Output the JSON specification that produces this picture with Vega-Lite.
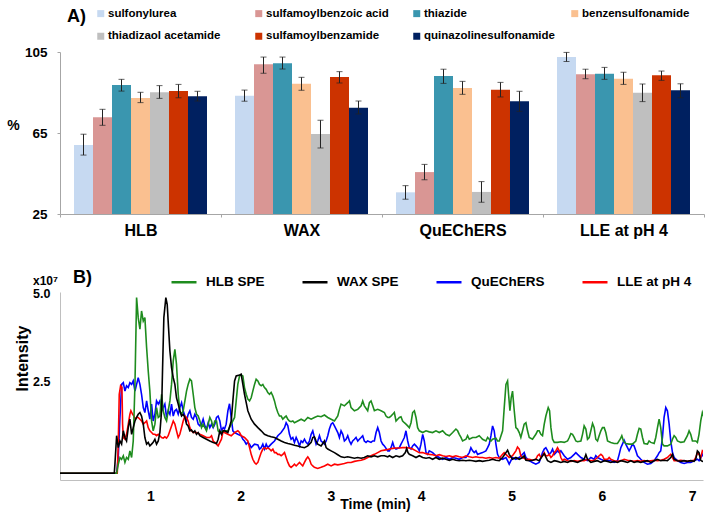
{
"$schema": "https://vega.github.io/schema/vega-lite/v6.json",
"autosize": {"type": "pad"},
"padding": {"left": 6, "top": 7, "right": 5, "bottom": 5},
"background": "white",
"config": {
  "view": {"stroke": null},
  "font": "Liberation Sans",
  "concat": {"spacing": 30},
  "axis": {"labelColor": "#000", "titleColor": "#000", "labelFont": "Liberation Sans", "titleFont": "Liberation Sans", "labelFontWeight": "bold", "titleFontWeight": "bold", "grid": false},
  "legend": {"labelFont": "Liberation Sans", "titleFont": "Liberation Sans", "labelColor": "#000", "titleColor": "#000", "labelFontWeight": "bold", "titleFontWeight": "bold"}
},
"resolve": {"scale": {"x": "independent", "y": "independent", "color": "independent"}, "axis": {"x": "independent", "y": "independent"}, "legend": {"color": "independent"}},
"datasets": {
  "recovery": [
    {"method":"HLB","compound":"sulfonylurea","value":59.1,"lo":54.1,"hi":64.4},
    {"method":"HLB","compound":"sulfamoylbenzoic acid","value":72.8,"lo":68.8,"hi":76.7},
    {"method":"HLB","compound":"thiazide","value":88.7,"lo":85.7,"hi":91.5},
    {"method":"HLB","compound":"benzensulfonamide","value":82.3,"lo":80.0,"hi":85.1},
    {"method":"HLB","compound":"thiadizaol acetamide","value":85.1,"lo":82.1,"hi":88.4},
    {"method":"HLB","compound":"sulfamoylbenzamide","value":85.7,"lo":82.4,"hi":89.0},
    {"method":"HLB","compound":"quinazolinesulfonamide","value":83.1,"lo":80.8,"hi":85.6},
    {"method":"WAX","compound":"sulfonylurea","value":83.4,"lo":80.7,"hi":86.2},
    {"method":"WAX","compound":"sulfamoylbenzoic acid","value":98.9,"lo":94.5,"hi":102.5},
    {"method":"WAX","compound":"thiazide","value":99.4,"lo":96.6,"hi":102.5},
    {"method":"WAX","compound":"benzensulfonamide","value":89.3,"lo":86.1,"hi":92.5},
    {"method":"WAX","compound":"thiadizaol acetamide","value":64.5,"lo":57.6,"hi":71.3},
    {"method":"WAX","compound":"sulfamoylbenzamide","value":92.7,"lo":89.7,"hi":95.3},
    {"method":"WAX","compound":"quinazolinesulfonamide","value":77.5,"lo":74.4,"hi":80.8},
    {"method":"QuEChERS","compound":"sulfonylurea","value":35.7,"lo":32.3,"hi":39.0},
    {"method":"QuEChERS","compound":"sulfamoylbenzoic acid","value":45.7,"lo":41.9,"hi":49.5},
    {"method":"QuEChERS","compound":"thiazide","value":93.1,"lo":89.5,"hi":96.5},
    {"method":"QuEChERS","compound":"benzensulfonamide","value":87.2,"lo":84.1,"hi":90.5},
    {"method":"QuEChERS","compound":"thiadizaol acetamide","value":35.9,"lo":30.8,"hi":41.0},
    {"method":"QuEChERS","compound":"sulfamoylbenzamide","value":86.4,"lo":82.8,"hi":90.0},
    {"method":"QuEChERS","compound":"quinazolinesulfonamide","value":80.7,"lo":75.7,"hi":85.6},
    {"method":"LLE at pH 4","compound":"sulfonylurea","value":102.5,"lo":100.3,"hi":104.8},
    {"method":"LLE at pH 4","compound":"sulfamoylbenzoic acid","value":94.0,"lo":91.8,"hi":96.5},
    {"method":"LLE at pH 4","compound":"thiazide","value":94.3,"lo":91.5,"hi":97.4},
    {"method":"LLE at pH 4","compound":"benzensulfonamide","value":91.8,"lo":89.0,"hi":95.0},
    {"method":"LLE at pH 4","compound":"thiadizaol acetamide","value":84.9,"lo":80.5,"hi":89.2},
    {"method":"LLE at pH 4","compound":"sulfamoylbenzamide","value":93.5,"lo":91.0,"hi":95.6},
    {"method":"LLE at pH 4","compound":"quinazolinesulfonamide","value":86.1,"lo":82.4,"hi":89.3}
  ],
  "quechers": [
{"t":0,"i":-0.11},{"t":0.627,"i":-0.11},{"t":0.645,"i":0.34},{"t":0.664,"i":1.48},{"t":0.682,"i":2.42},{"t":0.701,"i":2.47},{"t":0.719,"i":2.23},{"t":0.737,"i":2.38},{"t":0.756,"i":2.33},{"t":0.774,"i":2.47},{"t":0.793,"i":2.42},{"t":0.811,"i":2.52},{"t":0.83,"i":2.23},{"t":0.848,"i":2.42},{"t":0.866,"i":2.61},{"t":0.885,"i":2.42},{"t":0.903,"i":2.14},{"t":0.922,"i":1.76},{"t":0.94,"i":1.62},{"t":0.959,"i":1.95},{"t":0.977,"i":1.67},{"t":0.995,"i":1.43},{"t":1.014,"i":1.86},{"t":1.032,"i":1.38},{"t":1.051,"i":1.57},{"t":1.069,"i":1.95},{"t":1.088,"i":1.86},{"t":1.106,"i":1.95},{"t":1.125,"i":1.67},{"t":1.143,"i":1.76},{"t":1.161,"i":1.86},{"t":1.18,"i":1.48},{"t":1.198,"i":1.67},{"t":1.217,"i":1.57},{"t":1.235,"i":1.86},{"t":1.254,"i":1.52},{"t":1.272,"i":1.67},{"t":1.29,"i":1.71},{"t":1.309,"i":1.57},{"t":1.327,"i":1.76},{"t":1.346,"i":1.9},{"t":1.364,"i":1.67},{"t":1.383,"i":1.52},{"t":1.401,"i":1.38},{"t":1.419,"i":1.57},{"t":1.438,"i":1.67},{"t":1.456,"i":1.48},{"t":1.475,"i":1.43},{"t":1.493,"i":1.57},{"t":1.512,"i":1.48},{"t":1.53,"i":1.29},{"t":1.549,"i":1.24},{"t":1.567,"i":1.29},{"t":1.585,"i":1.43},{"t":1.604,"i":1.24},{"t":1.622,"i":1.15},{"t":1.641,"i":1.33},{"t":1.659,"i":1.19},{"t":1.678,"i":1.29},{"t":1.696,"i":1.19},{"t":1.714,"i":1.29},{"t":1.733,"i":1.48},{"t":1.751,"i":1.52},{"t":1.77,"i":1.38},{"t":1.788,"i":1.1},{"t":1.807,"i":1.19},{"t":1.822,"i":1.15},{"t":1.84,"i":1.29},{"t":1.859,"i":1.67},{"t":1.877,"i":1.87},{"t":1.896,"i":1.48},{"t":1.914,"i":1.1},{"t":1.933,"i":1.05},{"t":1.969,"i":1.0},{"t":2.006,"i":0.96},{"t":2.025,"i":0.86},{"t":2.043,"i":0.81},{"t":2.062,"i":0.72},{"t":2.08,"i":0.77},{"t":2.099,"i":0.72},{"t":2.117,"i":0.62},{"t":2.135,"i":0.67},{"t":2.154,"i":0.72},{"t":2.191,"i":0.7},{"t":2.209,"i":0.58},{"t":2.228,"i":0.62},{"t":2.246,"i":0.72},{"t":2.264,"i":0.58},{"t":2.283,"i":0.72},{"t":2.301,"i":0.62},{"t":2.32,"i":0.67},{"t":2.338,"i":0.72},{"t":2.375,"i":0.81},{"t":2.412,"i":0.96},{"t":2.449,"i":1.05},{"t":2.486,"i":1.19},{"t":2.504,"i":1.33},{"t":2.523,"i":1.24},{"t":2.541,"i":1.0},{"t":2.559,"i":0.86},{"t":2.578,"i":0.91},{"t":2.596,"i":0.77},{"t":2.615,"i":0.91},{"t":2.633,"i":0.81},{"t":2.652,"i":0.67},{"t":2.67,"i":0.81},{"t":2.688,"i":0.77},{"t":2.707,"i":0.86},{"t":2.725,"i":0.77},{"t":2.744,"i":0.72},{"t":2.762,"i":0.81},{"t":2.781,"i":1.0},{"t":2.799,"i":1.1},{"t":2.817,"i":0.91},{"t":2.836,"i":0.72},{"t":2.854,"i":0.81},{"t":2.873,"i":0.96},{"t":2.891,"i":0.81},{"t":2.91,"i":0.77},{"t":2.928,"i":0.72},{"t":2.947,"i":0.81},{"t":2.965,"i":0.96},{"t":2.983,"i":1.15},{"t":3.002,"i":1.29},{"t":3.02,"i":1.33},{"t":3.039,"i":1.24},{"t":3.057,"i":1.15},{"t":3.076,"i":1.05},{"t":3.094,"i":0.91},{"t":3.112,"i":1.1},{"t":3.131,"i":1.0},{"t":3.149,"i":0.81},{"t":3.168,"i":0.86},{"t":3.186,"i":0.96},{"t":3.205,"i":0.81},{"t":3.223,"i":0.72},{"t":3.241,"i":0.81},{"t":3.26,"i":0.86},{"t":3.278,"i":0.91},{"t":3.297,"i":0.81},{"t":3.315,"i":0.86},{"t":3.334,"i":0.91},{"t":3.352,"i":0.96},{"t":3.37,"i":0.81},{"t":3.389,"i":0.77},{"t":3.407,"i":0.81},{"t":3.444,"i":0.77},{"t":3.463,"i":0.81},{"t":3.481,"i":0.81},{"t":3.5,"i":1.05},{"t":3.518,"i":1.19},{"t":3.536,"i":1.05},{"t":3.555,"i":0.81},{"t":3.573,"i":0.72},{"t":3.592,"i":0.67},{"t":3.629,"i":0.53},{"t":3.647,"i":0.53},{"t":3.665,"i":0.62},{"t":3.684,"i":0.77},{"t":3.702,"i":0.62},{"t":3.721,"i":0.58},{"t":3.758,"i":0.62},{"t":3.776,"i":0.72},{"t":3.794,"i":0.81},{"t":3.813,"i":0.91},{"t":3.831,"i":1.1},{"t":3.85,"i":0.81},{"t":3.868,"i":0.62},{"t":3.887,"i":0.58},{"t":3.905,"i":0.67},{"t":3.924,"i":0.72},{"t":3.942,"i":0.67},{"t":3.96,"i":0.62},{"t":3.979,"i":0.53},{"t":3.997,"i":0.72},{"t":4.016,"i":1.0},{"t":4.034,"i":0.81},{"t":4.053,"i":0.48},{"t":4.071,"i":0.43},{"t":4.089,"i":0.53},{"t":4.126,"i":0.48},{"t":4.163,"i":0.39},{"t":4.2,"i":0.34},{"t":4.237,"i":0.29},{"t":4.274,"i":0.34},{"t":4.311,"i":0.29},{"t":4.348,"i":0.34},{"t":4.384,"i":0.32},{"t":4.421,"i":0.29},{"t":4.458,"i":0.34},{"t":4.495,"i":0.34},{"t":4.532,"i":0.48},{"t":4.55,"i":0.62},{"t":4.569,"i":0.53},{"t":4.587,"i":0.48},{"t":4.606,"i":0.53},{"t":4.624,"i":0.43},{"t":4.642,"i":0.45},{"t":4.679,"i":0.48},{"t":4.716,"i":0.53},{"t":4.735,"i":0.62},{"t":4.753,"i":0.72},{"t":4.772,"i":0.96},{"t":4.79,"i":1.24},{"t":4.808,"i":1.1},{"t":4.827,"i":0.72},{"t":4.845,"i":0.43},{"t":4.864,"i":0.34},{"t":4.901,"i":0.29},{"t":4.938,"i":0.34},{"t":4.956,"i":0.25},{"t":4.974,"i":0.15},{"t":4.993,"i":0.25},{"t":5.011,"i":0.34},{"t":5.048,"i":0.29},{"t":5.085,"i":0.34},{"t":5.122,"i":0.43},{"t":5.14,"i":0.48},{"t":5.159,"i":0.34},{"t":5.196,"i":0.25},{"t":5.232,"i":0.2},{"t":5.269,"i":0.15},{"t":5.306,"i":0.2},{"t":5.325,"i":0.34},{"t":5.343,"i":0.48},{"t":5.362,"i":0.58},{"t":5.38,"i":0.62},{"t":5.399,"i":0.53},{"t":5.417,"i":0.43},{"t":5.436,"i":0.48},{"t":5.454,"i":0.58},{"t":5.473,"i":0.43},{"t":5.509,"i":0.53},{"t":5.528,"i":0.48},{"t":5.546,"i":0.53},{"t":5.583,"i":0.39},{"t":5.62,"i":0.29},{"t":5.657,"i":0.34},{"t":5.694,"i":0.43},{"t":5.712,"i":0.48},{"t":5.731,"i":0.43},{"t":5.768,"i":0.34},{"t":5.804,"i":0.29},{"t":5.841,"i":0.25},{"t":5.878,"i":0.34},{"t":5.915,"i":0.29},{"t":5.933,"i":0.39},{"t":5.952,"i":0.34},{"t":5.989,"i":0.29},{"t":6.026,"i":0.25},{"t":6.063,"i":0.26},{"t":6.099,"i":0.25},{"t":6.136,"i":0.2},{"t":6.173,"i":0.25},{"t":6.192,"i":0.43},{"t":6.21,"i":0.62},{"t":6.228,"i":0.72},{"t":6.247,"i":0.83},{"t":6.265,"i":0.72},{"t":6.284,"i":0.62},{"t":6.302,"i":0.53},{"t":6.321,"i":0.62},{"t":6.339,"i":0.72},{"t":6.357,"i":0.67},{"t":6.376,"i":0.53},{"t":6.394,"i":0.39},{"t":6.413,"i":0.34},{"t":6.431,"i":0.29},{"t":6.468,"i":0.2},{"t":6.505,"i":0.15},{"t":6.542,"i":0.17},{"t":6.579,"i":0.25},{"t":6.616,"i":0.39},{"t":6.634,"i":0.48},{"t":6.652,"i":0.53},{"t":6.671,"i":0.91},{"t":6.689,"i":1.48},{"t":6.708,"i":1.76},{"t":6.726,"i":1.67},{"t":6.745,"i":1.29},{"t":6.763,"i":0.81},{"t":6.782,"i":0.48},{"t":6.8,"i":0.34},{"t":6.837,"i":0.25},{"t":6.874,"i":0.2},{"t":6.911,"i":0.17},{"t":6.947,"i":0.2},{"t":6.984,"i":0.2},{"t":7.021,"i":0.25},{"t":7.058,"i":0.29},{"t":7.076,"i":0.25},{"t":7.095,"i":0.34},{"t":7.113,"i":0.43},{"t":7.132,"i":0.34},{"t":7.15,"i":0.34}
  ],
  "lle": [
{"t":0,"i":-0.11},{"t":0.634,"i":-0.11},{"t":0.645,"i":0.72},{"t":0.656,"i":2.14},{"t":0.671,"i":2.38},{"t":0.686,"i":2.33},{"t":0.693,"i":1.29},{"t":0.701,"i":0.91},{"t":0.719,"i":0.86},{"t":0.737,"i":1.0},{"t":0.756,"i":1.29},{"t":0.774,"i":1.57},{"t":0.785,"i":1.67},{"t":0.804,"i":1.57},{"t":0.819,"i":1.52},{"t":0.833,"i":1.43},{"t":0.848,"i":1.48},{"t":0.866,"i":1.48},{"t":0.885,"i":1.43},{"t":0.903,"i":1.38},{"t":0.922,"i":1.29},{"t":0.94,"i":1.33},{"t":0.959,"i":1.38},{"t":0.977,"i":1.19},{"t":0.995,"i":1.1},{"t":1.014,"i":1.05},{"t":1.032,"i":1.0},{"t":1.051,"i":1.0},{"t":1.069,"i":0.96},{"t":1.088,"i":1.0},{"t":1.106,"i":0.96},{"t":1.125,"i":0.91},{"t":1.143,"i":0.89},{"t":1.161,"i":0.93},{"t":1.18,"i":0.89},{"t":1.198,"i":0.96},{"t":1.217,"i":1.1},{"t":1.235,"i":1.24},{"t":1.254,"i":1.38},{"t":1.272,"i":1.29},{"t":1.29,"i":1.1},{"t":1.309,"i":0.91},{"t":1.327,"i":1.0},{"t":1.346,"i":1.19},{"t":1.364,"i":1.38},{"t":1.383,"i":1.52},{"t":1.401,"i":1.48},{"t":1.419,"i":1.38},{"t":1.438,"i":1.19},{"t":1.456,"i":1.1},{"t":1.475,"i":1.05},{"t":1.512,"i":1.05},{"t":1.549,"i":1.0},{"t":1.585,"i":0.96},{"t":1.622,"i":0.91},{"t":1.659,"i":0.91},{"t":1.678,"i":0.96},{"t":1.696,"i":0.81},{"t":1.714,"i":0.77},{"t":1.733,"i":0.72},{"t":1.751,"i":0.67},{"t":1.77,"i":0.77},{"t":1.788,"i":0.86},{"t":1.807,"i":1.1},{"t":1.822,"i":1.05},{"t":1.859,"i":1.0},{"t":1.896,"i":0.96},{"t":1.933,"i":1.05},{"t":1.969,"i":1.1},{"t":1.988,"i":1.05},{"t":2.006,"i":0.96},{"t":2.043,"i":0.91},{"t":2.08,"i":0.81},{"t":2.099,"i":0.62},{"t":2.117,"i":0.43},{"t":2.135,"i":0.29},{"t":2.154,"i":0.2},{"t":2.172,"i":0.15},{"t":2.191,"i":0.2},{"t":2.209,"i":0.34},{"t":2.228,"i":0.48},{"t":2.246,"i":0.58},{"t":2.264,"i":0.62},{"t":2.283,"i":0.58},{"t":2.301,"i":0.62},{"t":2.32,"i":0.58},{"t":2.338,"i":0.53},{"t":2.357,"i":0.58},{"t":2.375,"i":0.48},{"t":2.393,"i":0.48},{"t":2.412,"i":0.43},{"t":2.43,"i":0.43},{"t":2.449,"i":0.39},{"t":2.467,"i":0.43},{"t":2.486,"i":0.48},{"t":2.504,"i":0.34},{"t":2.523,"i":0.2},{"t":2.541,"i":0.1},{"t":2.559,"i":0.06},{"t":2.578,"i":0.1},{"t":2.596,"i":0.15},{"t":2.615,"i":0.1},{"t":2.633,"i":0.15},{"t":2.652,"i":0.2},{"t":2.67,"i":0.15},{"t":2.688,"i":0.1},{"t":2.707,"i":0.2},{"t":2.725,"i":0.29},{"t":2.744,"i":0.36},{"t":2.762,"i":0.29},{"t":2.781,"i":0.15},{"t":2.799,"i":0.1},{"t":2.817,"i":0.06},{"t":2.854,"i":0.03},{"t":2.891,"i":0.06},{"t":2.928,"i":0.1},{"t":2.965,"i":0.15},{"t":3.002,"i":0.1},{"t":3.039,"i":0.15},{"t":3.076,"i":0.13},{"t":3.112,"i":0.15},{"t":3.149,"i":0.17},{"t":3.186,"i":0.2},{"t":3.223,"i":0.2},{"t":3.26,"i":0.23},{"t":3.297,"i":0.25},{"t":3.334,"i":0.26},{"t":3.37,"i":0.29},{"t":3.407,"i":0.34},{"t":3.444,"i":0.39},{"t":3.481,"i":0.43},{"t":3.518,"i":0.48},{"t":3.555,"i":0.53},{"t":3.592,"i":0.55},{"t":3.629,"i":0.57},{"t":3.647,"i":0.58},{"t":3.684,"i":0.6},{"t":3.721,"i":0.61},{"t":3.758,"i":0.61},{"t":3.794,"i":0.62},{"t":3.831,"i":0.62},{"t":3.868,"i":0.61},{"t":3.905,"i":0.58},{"t":3.942,"i":0.53},{"t":3.979,"i":0.48},{"t":4.016,"i":0.48},{"t":4.053,"i":0.45},{"t":4.089,"i":0.43},{"t":4.126,"i":0.42},{"t":4.163,"i":0.39},{"t":4.2,"i":0.42},{"t":4.237,"i":0.39},{"t":4.274,"i":0.37},{"t":4.311,"i":0.39},{"t":4.348,"i":0.36},{"t":4.384,"i":0.39},{"t":4.421,"i":0.36},{"t":4.458,"i":0.34},{"t":4.495,"i":0.39},{"t":4.532,"i":0.36},{"t":4.569,"i":0.34},{"t":4.606,"i":0.36},{"t":4.642,"i":0.34},{"t":4.679,"i":0.34},{"t":4.716,"i":0.32},{"t":4.753,"i":0.34},{"t":4.79,"i":0.32},{"t":4.827,"i":0.34},{"t":4.864,"i":0.32},{"t":4.901,"i":0.43},{"t":4.919,"i":0.48},{"t":4.938,"i":0.43},{"t":4.974,"i":0.34},{"t":5.011,"i":0.39},{"t":5.048,"i":0.53},{"t":5.066,"i":0.64},{"t":5.085,"i":0.58},{"t":5.103,"i":0.39},{"t":5.122,"i":0.34},{"t":5.159,"i":0.29},{"t":5.196,"i":0.29},{"t":5.232,"i":0.26},{"t":5.269,"i":0.29},{"t":5.288,"i":0.39},{"t":5.306,"i":0.43},{"t":5.325,"i":0.34},{"t":5.343,"i":0.39},{"t":5.362,"i":0.48},{"t":5.38,"i":0.39},{"t":5.399,"i":0.39},{"t":5.417,"i":0.43},{"t":5.436,"i":0.34},{"t":5.454,"i":0.39},{"t":5.473,"i":0.48},{"t":5.491,"i":0.53},{"t":5.509,"i":0.62},{"t":5.528,"i":0.53},{"t":5.546,"i":0.34},{"t":5.565,"i":0.25},{"t":5.583,"i":0.29},{"t":5.62,"i":0.25},{"t":5.657,"i":0.23},{"t":5.694,"i":0.25},{"t":5.731,"i":0.23},{"t":5.768,"i":0.25},{"t":5.804,"i":0.25},{"t":5.841,"i":0.29},{"t":5.878,"i":0.25},{"t":5.915,"i":0.26},{"t":5.952,"i":0.34},{"t":5.97,"i":0.39},{"t":5.989,"i":0.43},{"t":6.007,"i":0.39},{"t":6.026,"i":0.29},{"t":6.063,"i":0.29},{"t":6.081,"i":0.34},{"t":6.099,"i":0.29},{"t":6.136,"i":0.25},{"t":6.173,"i":0.23},{"t":6.21,"i":0.25},{"t":6.247,"i":0.29},{"t":6.284,"i":0.26},{"t":6.321,"i":0.25},{"t":6.357,"i":0.23},{"t":6.394,"i":0.25},{"t":6.431,"i":0.23},{"t":6.468,"i":0.25},{"t":6.505,"i":0.23},{"t":6.542,"i":0.25},{"t":6.579,"i":0.26},{"t":6.616,"i":0.25},{"t":6.652,"i":0.26},{"t":6.689,"i":0.29},{"t":6.726,"i":0.34},{"t":6.745,"i":0.39},{"t":6.763,"i":0.43},{"t":6.782,"i":0.34},{"t":6.8,"i":0.25},{"t":6.837,"i":0.25},{"t":6.874,"i":0.26},{"t":6.911,"i":0.25},{"t":6.947,"i":0.23},{"t":6.984,"i":0.25},{"t":7.021,"i":0.26},{"t":7.04,"i":0.34},{"t":7.058,"i":0.48},{"t":7.076,"i":0.43},{"t":7.095,"i":0.34},{"t":7.113,"i":0.53},{"t":7.132,"i":0.48},{"t":7.15,"i":0.39}
  ],
  "hlb": [
{"t":0,"i":-0.11},{"t":0.627,"i":-0.11},{"t":0.645,"i":0.15},{"t":0.664,"i":0.34},{"t":0.682,"i":0.29},{"t":0.701,"i":0.39},{"t":0.719,"i":0.2},{"t":0.737,"i":0.34},{"t":0.756,"i":0.29},{"t":0.774,"i":0.53},{"t":0.793,"i":0.34},{"t":0.811,"i":0.81},{"t":0.83,"i":2.42},{"t":0.848,"i":4.89},{"t":0.866,"i":4.32},{"t":0.885,"i":3.99},{"t":0.903,"i":4.51},{"t":0.922,"i":4.22},{"t":0.94,"i":4.32},{"t":0.959,"i":3.47},{"t":0.977,"i":2.8},{"t":0.995,"i":2.23},{"t":1.014,"i":1.38},{"t":1.032,"i":1.1},{"t":1.051,"i":1.29},{"t":1.069,"i":1.76},{"t":1.088,"i":1.48},{"t":1.106,"i":1.52},{"t":1.125,"i":2.14},{"t":1.143,"i":1.67},{"t":1.161,"i":1.48},{"t":1.18,"i":1.38},{"t":1.198,"i":1.67},{"t":1.217,"i":1.95},{"t":1.235,"i":2.42},{"t":1.254,"i":3.09},{"t":1.272,"i":3.42},{"t":1.29,"i":2.99},{"t":1.309,"i":2.14},{"t":1.327,"i":1.67},{"t":1.346,"i":1.57},{"t":1.364,"i":1.67},{"t":1.383,"i":1.95},{"t":1.401,"i":2.23},{"t":1.419,"i":2.42},{"t":1.438,"i":2.57},{"t":1.456,"i":2.52},{"t":1.475,"i":2.14},{"t":1.493,"i":1.76},{"t":1.512,"i":1.57},{"t":1.53,"i":1.52},{"t":1.549,"i":1.38},{"t":1.567,"i":1.19},{"t":1.585,"i":1.29},{"t":1.604,"i":1.19},{"t":1.622,"i":1.1},{"t":1.641,"i":1.29},{"t":1.659,"i":1.48},{"t":1.678,"i":1.38},{"t":1.696,"i":1.19},{"t":1.714,"i":1.38},{"t":1.733,"i":1.38},{"t":1.751,"i":1.1},{"t":1.77,"i":1.05},{"t":1.807,"i":1.1},{"t":1.822,"i":1.1},{"t":1.859,"i":1.1},{"t":1.896,"i":1.29},{"t":1.933,"i":1.48},{"t":1.951,"i":1.95},{"t":1.969,"i":2.42},{"t":1.988,"i":2.66},{"t":2.006,"i":2.69},{"t":2.025,"i":2.66},{"t":2.043,"i":2.33},{"t":2.062,"i":2.14},{"t":2.08,"i":2.0},{"t":2.099,"i":1.95},{"t":2.117,"i":2.04},{"t":2.135,"i":2.23},{"t":2.154,"i":2.42},{"t":2.172,"i":2.57},{"t":2.191,"i":2.52},{"t":2.209,"i":2.42},{"t":2.228,"i":2.38},{"t":2.246,"i":2.42},{"t":2.264,"i":2.33},{"t":2.283,"i":2.28},{"t":2.301,"i":2.19},{"t":2.32,"i":2.14},{"t":2.338,"i":2.19},{"t":2.357,"i":2.09},{"t":2.375,"i":1.95},{"t":2.393,"i":1.76},{"t":2.412,"i":1.62},{"t":2.43,"i":1.52},{"t":2.449,"i":1.52},{"t":2.467,"i":1.43},{"t":2.486,"i":1.48},{"t":2.504,"i":1.52},{"t":2.523,"i":1.43},{"t":2.541,"i":1.38},{"t":2.559,"i":1.36},{"t":2.578,"i":1.38},{"t":2.596,"i":1.33},{"t":2.633,"i":1.38},{"t":2.67,"i":1.43},{"t":2.707,"i":1.38},{"t":2.744,"i":1.48},{"t":2.781,"i":1.43},{"t":2.817,"i":1.48},{"t":2.854,"i":1.52},{"t":2.891,"i":1.5},{"t":2.928,"i":1.55},{"t":2.965,"i":1.48},{"t":3.002,"i":1.43},{"t":3.039,"i":1.38},{"t":3.076,"i":1.52},{"t":3.094,"i":1.71},{"t":3.112,"i":1.86},{"t":3.149,"i":1.81},{"t":3.186,"i":1.9},{"t":3.205,"i":1.95},{"t":3.223,"i":1.76},{"t":3.26,"i":1.67},{"t":3.297,"i":1.71},{"t":3.334,"i":1.81},{"t":3.352,"i":1.95},{"t":3.37,"i":1.81},{"t":3.407,"i":1.67},{"t":3.426,"i":1.9},{"t":3.444,"i":1.95},{"t":3.463,"i":1.81},{"t":3.481,"i":1.67},{"t":3.518,"i":1.71},{"t":3.555,"i":1.67},{"t":3.592,"i":1.62},{"t":3.61,"i":1.52},{"t":3.629,"i":1.48},{"t":3.647,"i":1.48},{"t":3.665,"i":1.52},{"t":3.684,"i":1.57},{"t":3.702,"i":1.62},{"t":3.721,"i":1.38},{"t":3.739,"i":1.43},{"t":3.758,"i":1.48},{"t":3.776,"i":1.5},{"t":3.794,"i":1.38},{"t":3.813,"i":1.33},{"t":3.831,"i":1.29},{"t":3.85,"i":1.24},{"t":3.868,"i":1.19},{"t":3.887,"i":1.33},{"t":3.905,"i":1.62},{"t":3.924,"i":1.67},{"t":3.942,"i":1.48},{"t":3.96,"i":1.19},{"t":3.979,"i":1.1},{"t":4.016,"i":1.05},{"t":4.053,"i":1.1},{"t":4.089,"i":1.07},{"t":4.126,"i":1.05},{"t":4.163,"i":1.1},{"t":4.2,"i":1.05},{"t":4.237,"i":1.1},{"t":4.274,"i":1.0},{"t":4.311,"i":0.96},{"t":4.348,"i":1.05},{"t":4.366,"i":1.1},{"t":4.384,"i":1.15},{"t":4.403,"i":1.1},{"t":4.421,"i":1.0},{"t":4.44,"i":0.91},{"t":4.458,"i":0.81},{"t":4.495,"i":0.86},{"t":4.513,"i":0.96},{"t":4.532,"i":0.86},{"t":4.569,"i":0.91},{"t":4.606,"i":0.91},{"t":4.642,"i":0.96},{"t":4.661,"i":0.91},{"t":4.679,"i":0.86},{"t":4.716,"i":0.81},{"t":4.735,"i":0.91},{"t":4.753,"i":0.86},{"t":4.772,"i":0.81},{"t":4.79,"i":0.86},{"t":4.827,"i":0.89},{"t":4.845,"i":0.81},{"t":4.864,"i":0.81},{"t":4.901,"i":1.1},{"t":4.919,"i":1.76},{"t":4.938,"i":2.42},{"t":4.956,"i":2.52},{"t":4.967,"i":2.14},{"t":4.982,"i":1.67},{"t":4.996,"i":2.04},{"t":5.011,"i":2.23},{"t":5.03,"i":1.67},{"t":5.048,"i":1.19},{"t":5.066,"i":1.15},{"t":5.085,"i":1.05},{"t":5.103,"i":0.91},{"t":5.122,"i":1.1},{"t":5.14,"i":1.29},{"t":5.159,"i":1.33},{"t":5.177,"i":1.1},{"t":5.196,"i":0.91},{"t":5.232,"i":0.86},{"t":5.269,"i":1.0},{"t":5.288,"i":1.1},{"t":5.306,"i":1.1},{"t":5.325,"i":1.0},{"t":5.343,"i":0.96},{"t":5.362,"i":1.29},{"t":5.38,"i":1.52},{"t":5.406,"i":1.76},{"t":5.421,"i":1.67},{"t":5.436,"i":1.19},{"t":5.454,"i":0.86},{"t":5.473,"i":0.77},{"t":5.509,"i":0.77},{"t":5.546,"i":0.79},{"t":5.583,"i":0.77},{"t":5.62,"i":0.81},{"t":5.639,"i":0.91},{"t":5.657,"i":1.02},{"t":5.675,"i":1.0},{"t":5.694,"i":0.91},{"t":5.712,"i":0.81},{"t":5.731,"i":0.79},{"t":5.768,"i":0.81},{"t":5.786,"i":1.0},{"t":5.804,"i":1.24},{"t":5.823,"i":1.15},{"t":5.841,"i":0.86},{"t":5.86,"i":0.91},{"t":5.878,"i":1.1},{"t":5.897,"i":1.31},{"t":5.915,"i":1.19},{"t":5.933,"i":0.86},{"t":5.952,"i":0.81},{"t":5.97,"i":0.96},{"t":5.989,"i":1.1},{"t":6.007,"i":1.19},{"t":6.026,"i":1.19},{"t":6.044,"i":1.05},{"t":6.063,"i":0.81},{"t":6.099,"i":0.77},{"t":6.136,"i":0.74},{"t":6.173,"i":0.74},{"t":6.203,"i":0.86},{"t":6.221,"i":0.96},{"t":6.239,"i":0.81},{"t":6.265,"i":0.74},{"t":6.302,"i":0.72},{"t":6.339,"i":0.72},{"t":6.376,"i":0.81},{"t":6.394,"i":1.0},{"t":6.413,"i":1.17},{"t":6.431,"i":1.15},{"t":6.45,"i":0.91},{"t":6.468,"i":0.74},{"t":6.505,"i":0.72},{"t":6.523,"i":0.81},{"t":6.542,"i":0.77},{"t":6.579,"i":0.74},{"t":6.597,"i":0.91},{"t":6.616,"i":1.19},{"t":6.634,"i":1.43},{"t":6.652,"i":1.19},{"t":6.671,"i":0.72},{"t":6.689,"i":0.67},{"t":6.726,"i":0.67},{"t":6.763,"i":0.72},{"t":6.782,"i":0.86},{"t":6.8,"i":0.96},{"t":6.818,"i":0.91},{"t":6.837,"i":0.81},{"t":6.874,"i":0.77},{"t":6.911,"i":0.79},{"t":6.947,"i":0.96},{"t":6.966,"i":1.1},{"t":6.984,"i":1.0},{"t":7.003,"i":0.81},{"t":7.04,"i":0.81},{"t":7.058,"i":0.77},{"t":7.076,"i":1.0},{"t":7.095,"i":1.38},{"t":7.113,"i":1.62},{"t":7.132,"i":1.48},{"t":7.15,"i":0.96}
  ],
  "wax": [
{"t":0,"i":-0.11},{"t":0.601,"i":-0.11},{"t":0.608,"i":0.15},{"t":0.627,"i":0.96},{"t":0.645,"i":0.62},{"t":0.664,"i":0.81},{"t":0.682,"i":0.72},{"t":0.701,"i":1.1},{"t":0.719,"i":0.91},{"t":0.737,"i":0.81},{"t":0.756,"i":1.19},{"t":0.774,"i":1.43},{"t":0.793,"i":1.0},{"t":0.811,"i":1.19},{"t":0.83,"i":1.38},{"t":0.848,"i":1.48},{"t":0.866,"i":1.57},{"t":0.885,"i":1.62},{"t":0.903,"i":1.52},{"t":0.922,"i":1.29},{"t":0.94,"i":0.91},{"t":0.959,"i":0.72},{"t":0.977,"i":0.77},{"t":0.995,"i":0.67},{"t":1.014,"i":0.72},{"t":1.032,"i":0.77},{"t":1.051,"i":0.86},{"t":1.069,"i":0.72},{"t":1.088,"i":0.81},{"t":1.106,"i":1.05},{"t":1.125,"i":1.67},{"t":1.136,"i":2.9},{"t":1.15,"i":4.32},{"t":1.172,"i":4.89},{"t":1.187,"i":4.7},{"t":1.202,"i":4.03},{"t":1.217,"i":3.37},{"t":1.235,"i":2.9},{"t":1.254,"i":2.61},{"t":1.272,"i":2.42},{"t":1.29,"i":2.04},{"t":1.309,"i":1.86},{"t":1.327,"i":1.67},{"t":1.346,"i":1.52},{"t":1.364,"i":1.57},{"t":1.383,"i":1.48},{"t":1.401,"i":1.29},{"t":1.419,"i":1.24},{"t":1.438,"i":1.1},{"t":1.456,"i":1.12},{"t":1.475,"i":1.05},{"t":1.493,"i":1.1},{"t":1.512,"i":1.0},{"t":1.53,"i":1.05},{"t":1.549,"i":0.96},{"t":1.585,"i":0.91},{"t":1.622,"i":0.86},{"t":1.659,"i":0.81},{"t":1.696,"i":0.77},{"t":1.733,"i":0.74},{"t":1.751,"i":0.86},{"t":1.77,"i":1.1},{"t":1.788,"i":1.0},{"t":1.807,"i":1.1},{"t":1.822,"i":1.1},{"t":1.859,"i":1.05},{"t":1.896,"i":1.38},{"t":1.914,"i":1.95},{"t":1.933,"i":2.52},{"t":1.951,"i":2.66},{"t":1.988,"i":2.69},{"t":2.006,"i":2.71},{"t":2.025,"i":2.42},{"t":2.043,"i":2.14},{"t":2.062,"i":1.9},{"t":2.08,"i":1.67},{"t":2.117,"i":1.43},{"t":2.154,"i":1.29},{"t":2.191,"i":1.19},{"t":2.228,"i":1.1},{"t":2.264,"i":1.0},{"t":2.301,"i":0.96},{"t":2.338,"i":0.93},{"t":2.375,"i":0.91},{"t":2.412,"i":0.86},{"t":2.449,"i":0.81},{"t":2.486,"i":0.77},{"t":2.523,"i":0.74},{"t":2.559,"i":0.72},{"t":2.596,"i":0.69},{"t":2.633,"i":0.67},{"t":2.67,"i":0.64},{"t":2.707,"i":0.62},{"t":2.744,"i":0.67},{"t":2.781,"i":0.77},{"t":2.799,"i":0.91},{"t":2.817,"i":0.93},{"t":2.836,"i":0.81},{"t":2.854,"i":0.72},{"t":2.891,"i":0.67},{"t":2.928,"i":0.81},{"t":2.947,"i":0.62},{"t":2.965,"i":0.58},{"t":3.002,"i":0.53},{"t":3.039,"i":0.48},{"t":3.076,"i":0.42},{"t":3.112,"i":0.36},{"t":3.149,"i":0.34},{"t":3.186,"i":0.36},{"t":3.223,"i":0.34},{"t":3.26,"i":0.32},{"t":3.297,"i":0.34},{"t":3.334,"i":0.32},{"t":3.37,"i":0.34},{"t":3.407,"i":0.39},{"t":3.444,"i":0.36},{"t":3.481,"i":0.39},{"t":3.518,"i":0.36},{"t":3.555,"i":0.39},{"t":3.592,"i":0.39},{"t":3.629,"i":0.36},{"t":3.647,"i":0.39},{"t":3.684,"i":0.34},{"t":3.721,"i":0.39},{"t":3.758,"i":0.36},{"t":3.794,"i":0.39},{"t":3.824,"i":0.48},{"t":3.839,"i":0.6},{"t":3.853,"i":0.48},{"t":3.868,"i":0.43},{"t":3.905,"i":0.39},{"t":3.942,"i":0.34},{"t":3.979,"i":0.39},{"t":4.016,"i":0.34},{"t":4.053,"i":0.32},{"t":4.089,"i":0.34},{"t":4.126,"i":0.29},{"t":4.163,"i":0.34},{"t":4.2,"i":0.29},{"t":4.237,"i":0.32},{"t":4.274,"i":0.29},{"t":4.311,"i":0.26},{"t":4.348,"i":0.29},{"t":4.384,"i":0.26},{"t":4.421,"i":0.25},{"t":4.458,"i":0.26},{"t":4.495,"i":0.25},{"t":4.532,"i":0.26},{"t":4.569,"i":0.25},{"t":4.606,"i":0.23},{"t":4.642,"i":0.25},{"t":4.679,"i":0.23},{"t":4.716,"i":0.25},{"t":4.753,"i":0.26},{"t":4.79,"i":0.29},{"t":4.827,"i":0.26},{"t":4.864,"i":0.25},{"t":4.901,"i":0.34},{"t":4.938,"i":0.48},{"t":4.956,"i":0.55},{"t":4.974,"i":0.43},{"t":5.011,"i":0.29},{"t":5.048,"i":0.34},{"t":5.085,"i":0.29},{"t":5.122,"i":0.34},{"t":5.14,"i":0.39},{"t":5.159,"i":0.26},{"t":5.196,"i":0.25},{"t":5.232,"i":0.26},{"t":5.269,"i":0.29},{"t":5.306,"i":0.25},{"t":5.343,"i":0.39},{"t":5.362,"i":0.45},{"t":5.399,"i":0.25},{"t":5.436,"i":0.2},{"t":5.473,"i":0.25},{"t":5.509,"i":0.23},{"t":5.546,"i":0.2},{"t":5.583,"i":0.23},{"t":5.62,"i":0.2},{"t":5.657,"i":0.25},{"t":5.694,"i":0.23},{"t":5.731,"i":0.2},{"t":5.768,"i":0.25},{"t":5.804,"i":0.29},{"t":5.823,"i":0.42},{"t":5.841,"i":0.29},{"t":5.878,"i":0.2},{"t":5.915,"i":0.23},{"t":5.952,"i":0.25},{"t":5.989,"i":0.2},{"t":6.026,"i":0.25},{"t":6.063,"i":0.23},{"t":6.099,"i":0.2},{"t":6.136,"i":0.23},{"t":6.173,"i":0.2},{"t":6.21,"i":0.25},{"t":6.247,"i":0.23},{"t":6.284,"i":0.2},{"t":6.321,"i":0.25},{"t":6.357,"i":0.2},{"t":6.394,"i":0.23},{"t":6.431,"i":0.2},{"t":6.468,"i":0.23},{"t":6.505,"i":0.25},{"t":6.542,"i":0.2},{"t":6.579,"i":0.25},{"t":6.616,"i":0.29},{"t":6.652,"i":0.25},{"t":6.689,"i":0.26},{"t":6.726,"i":0.25},{"t":6.763,"i":0.34},{"t":6.782,"i":0.43},{"t":6.8,"i":0.29},{"t":6.837,"i":0.25},{"t":6.874,"i":0.23},{"t":6.911,"i":0.25},{"t":6.947,"i":0.23},{"t":6.984,"i":0.25},{"t":7.021,"i":0.23},{"t":7.04,"i":0.29},{"t":7.058,"i":0.53},{"t":7.076,"i":0.48},{"t":7.095,"i":0.26},{"t":7.113,"i":0.23},{"t":7.15,"i":0.25}
  ]
},
"vconcat": [
  {
    "width": 644,
    "height": 162,
    "data": {"name": "recovery"},
    "encoding": {
      "x": {"field": "method", "type": "nominal", "sort": ["HLB", "WAX", "QuEChERS", "LLE at pH 4"],
            "scale": {"paddingInner": 0, "paddingOuter": 0},
            "axis": {"title": null, "labelAngle": 0, "labelFontSize": 16, "labelPadding": 5, "tickBand": "extent", "tickSize": 3, "domainColor": "#A6A6A6", "tickColor": "#A6A6A6"}},
      "xOffset": {"field": "compound", "type": "nominal",
            "sort": ["sulfonylurea", "sulfamoylbenzoic acid", "thiazide", "benzensulfonamide", "thiadizaol acetamide", "sulfamoylbenzamide", "quinazolinesulfonamide"],
            "scale": {"paddingInner": 0, "paddingOuter": 0.737}}
    },
    "layer": [
      {
        "mark": {"type": "bar"},
        "encoding": {
          "y": {"field": "value", "type": "quantitative", "scale": {"domain": [25, 105], "nice": false, "zero": false},
                "axis": {"title": "%", "titleAngle": 0, "titleX": -47, "titleY": 73, "titleAlign": "center", "titleBaseline": "middle", "titleFontSize": 14,
                         "values": [25, 65, 105], "tickSize": 3, "labelPadding": 10, "labelFontSize": 13.5, "domainColor": "#A6A6A6", "tickColor": "#A6A6A6"}},
          "y2": {"datum": 25},
          "color": {"field": "compound", "type": "nominal",
                    "scale": {"domain": ["sulfonylurea", "sulfamoylbenzoic acid", "thiazide", "benzensulfonamide", "thiadizaol acetamide", "sulfamoylbenzamide", "quinazolinesulfonamide"],
                              "range": ["#C6D9F1", "#D99694", "#3A96AF", "#FAC090", "#BFBFBF", "#CC3300", "#002060"]},
                    "legend": {"orient": "none", "legendX": 7, "legendY": -44.5, "direction": "horizontal", "columns": 4, "title": "A)", "titleOrient": "left",
                               "titleAnchor": "start", "titleFontSize": 18, "titlePadding": 9, "titleBaseline": "top", "symbolType": "square", "symbolSize": 49, "symbolStrokeWidth": 0,
                               "labelFontSize": 11.5, "labelOffset": 1.5, "gridAlign": "all", "columnPadding": 14, "rowPadding": 10, "labelLimit": 300}}
        }
      },
      {
        "mark": {"type": "rule", "color": "#222222", "strokeWidth": 1},
        "encoding": {"y": {"field": "lo", "type": "quantitative", "title": "%"}, "y2": {"field": "hi"}}
      },
      {
        "mark": {"type": "tick", "color": "#222222", "size": 6, "thickness": 1},
        "encoding": {"y": {"field": "lo", "type": "quantitative", "title": "%"}}
      },
      {
        "mark": {"type": "tick", "color": "#222222", "size": 6, "thickness": 1},
        "encoding": {"y": {"field": "hi", "type": "quantitative", "title": "%"}}
      }
    ]
  },
  {
    "width": 643,
    "height": 188,
    "title": {"text": "x10⁷", "anchor": "start", "frame": "group", "dx": -27, "offset": -20, "fontSize": 12, "fontWeight": "bold", "font": "Liberation Sans", "color": "#000"},
    "encoding": {
      "x": {"field": "t", "type": "quantitative", "scale": {"domain": [0, 7.12], "nice": false, "zero": false},
            "axis": {"title": "Time (min)", "values": [1, 2, 3, 4, 5, 6, 7], "format": "d", "ticks": false, "labelPadding": 9, "labelFontSize": 14,
                     "domainColor": "#BFBFBF", "titleFontSize": 14, "titleX": 315, "titleY": 24, "titleBaseline": "middle", "titleAlign": "center"}},
      "y": {"field": "i", "type": "quantitative", "scale": {"domain": [-0.3, 5.05], "nice": false, "zero": false},
            "axis": {"title": "Intensity", "values": [2.5, 5], "format": ".1f", "ticks": false, "labelPadding": 10, "labelFontSize": 12.5,
                     "domainColor": "#BFBFBF", "titleFontSize": 16, "titleX": -38, "titleY": 66, "titleAngle": -90, "titleAlign": "center", "titleBaseline": "middle"}}
    },
    "layer": [
      {"data": {"name": "quechers"}, "mark": {"type": "line", "strokeWidth": 1.6, "clip": true}, "encoding": {"color": {"datum": "QuEChERS"}}},
      {"data": {"name": "lle"}, "mark": {"type": "line", "strokeWidth": 1.6, "clip": true}, "encoding": {"color": {"datum": "LLE at pH 4"}}},
      {"data": {"name": "hlb"}, "mark": {"type": "line", "strokeWidth": 1.6, "clip": true}, "encoding": {"color": {"datum": "HLB SPE"}}},
      {"data": {"name": "wax"}, "mark": {"type": "line", "strokeWidth": 1.6, "clip": true},
       "encoding": {"color": {"datum": "WAX SPE", "type": "nominal",
          "scale": {"domain": ["HLB SPE", "WAX SPE", "QuEChERS", "LLE at pH 4"], "range": ["#1E8C1E", "#000000", "#0000FF", "#FF0000"]},
          "legend": {"orient": "none", "legendX": 13, "legendY": -24, "direction": "horizontal", "title": "B)", "titleOrient": "left", "titleAnchor": "middle", "titleFontSize": 18,
                     "titlePadding": 78, "titleBaseline": "middle", "symbolType": "stroke", "symbolSize": 625, "symbolStrokeWidth": 2.5, "labelFontSize": 13.5,
                     "labelOffset": 8, "columnPadding": 32, "labelLimit": 300}}}}
    ]
  }
]
}
